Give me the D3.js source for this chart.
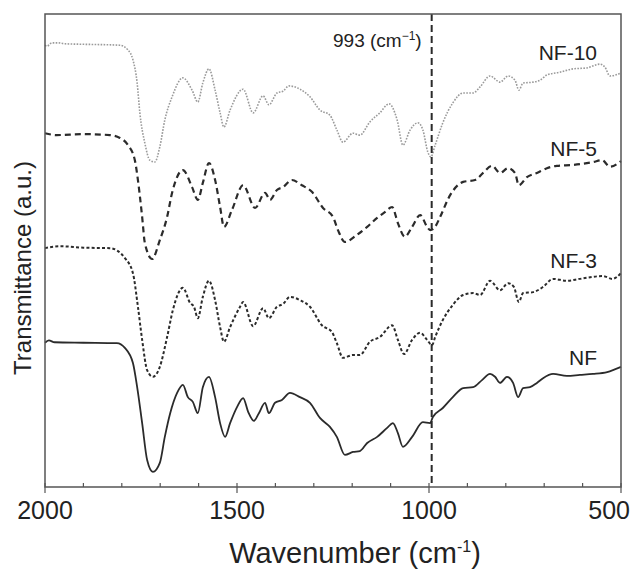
<!DOCTYPE html>
<html>
<head>
<meta charset="utf-8">
<script src="https://cdn.jsdelivr.net/npm/d3@7"></script>
<style>
  body { margin: 0; background: #fff; }
  text { font-family: "Liberation Sans", Arial, sans-serif; fill: #222; }
</style>
</head>
<body>
<script>
// x ticks (cm-1)
const xTicks = [2000, 1500, 1000, 500]
const peakMark = 993

// spectra: [wavenumber, transmittance (a.u.)]
const nf = [
  [2000, 30.5], [1990, 31.0], [1975, 30.6], [1900, 30.5], [1813, 30.4], [1792, 29.4], [1771, 26.2],
  [1760, 21.1], [1747, 13.5], [1734, 5.7], [1719, 3.2], [1701, 5.1], [1688, 10.6],
  [1674, 15.6], [1656, 19.9], [1641, 21.6], [1628, 19.0], [1615, 18.0], [1602, 15.6],
  [1589, 21.1], [1573, 23.3], [1557, 19.0], [1544, 13.5], [1531, 10.6], [1518, 13.5],
  [1500, 16.9], [1484, 18.8], [1471, 15.9], [1456, 14.0], [1443, 15.6], [1427, 17.8],
  [1417, 15.6], [1401, 17.8], [1383, 18.4], [1362, 19.9], [1336, 19.0], [1310, 17.8],
  [1284, 14.6], [1258, 12.7], [1240, 10.6], [1219, 6.8], [1198, 7.4], [1180, 7.6],
  [1161, 9.3], [1135, 10.6], [1109, 12.5], [1094, 13.5], [1081, 11.4], [1068, 8.5],
  [1044, 10.6], [1016, 13.7], [997, 13.5], [990, 14.8], [964, 16.7], [938, 19.0],
  [911, 20.9], [885, 21.1], [862, 22.6], [841, 23.9], [828, 23.3], [815, 22.0],
  [797, 23.3], [781, 22.0], [768, 19.0], [755, 20.9], [737, 21.1], [719, 22.0],
  [703, 23.0], [677, 23.9], [641, 23.5], [607, 23.7], [573, 23.9], [536, 24.3], [500, 25.4]
]

const nf3 = [
  [2000, 50.5], [1960, 50.9], [1900, 50.6], [1831, 50.5], [1792, 48.4], [1771, 45.2], [1758, 38.1],
  [1747, 31.1], [1734, 24.7], [1719, 23.3], [1701, 25.4], [1682, 31.7], [1667, 37.4],
  [1641, 42.1], [1622, 38.9], [1612, 38.1], [1602, 35.7], [1589, 40.2], [1573, 43.6],
  [1557, 39.5], [1544, 33.8], [1534, 30.7], [1518, 33.8], [1492, 38.1], [1484, 39.1],
  [1458, 34.0], [1432, 37.8], [1417, 35.7], [1396, 38.1], [1380, 38.7], [1362, 40.2],
  [1336, 39.5], [1310, 38.1], [1279, 34.2], [1253, 32.8], [1240, 30.4], [1224, 27.3],
  [1198, 27.9], [1180, 27.9], [1154, 30.7], [1128, 31.7], [1096, 34.2], [1081, 31.1],
  [1065, 28.1], [1044, 31.1], [1023, 32.6], [1005, 31.1], [992, 30.0], [984, 31.7],
  [964, 35.3], [938, 38.5], [911, 40.6], [885, 41.0], [867, 40.6], [841, 43.6],
  [815, 41.6], [794, 43.1], [779, 42.3], [766, 39.1], [755, 41.0], [729, 41.2],
  [703, 42.3], [677, 44.0], [641, 43.6], [607, 44.0], [547, 44.6], [523, 44.0], [500, 45.2]
]

const nf5 = [
  [2000, 74.8], [1970, 74.4], [1900, 74.6], [1831, 74.4], [1805, 73.8], [1784, 72.3], [1766, 69.1],
  [1758, 64.9], [1747, 57.1], [1740, 51.6], [1721, 48.2], [1701, 52.2], [1682, 57.1],
  [1669, 62.2], [1641, 67.0], [1617, 63.4], [1602, 60.7], [1589, 64.3], [1573, 68.5],
  [1557, 64.9], [1544, 59.2], [1534, 55.0], [1513, 58.6], [1484, 63.8], [1453, 59.0],
  [1427, 62.2], [1414, 60.7], [1396, 62.8], [1380, 63.4], [1357, 64.9], [1331, 63.8],
  [1305, 62.4], [1276, 59.0], [1250, 57.1], [1237, 54.3], [1219, 51.8], [1188, 53.3],
  [1161, 55.0], [1135, 56.9], [1115, 58.1], [1096, 59.2], [1081, 55.8], [1063, 52.9],
  [1044, 55.0], [1023, 57.5], [1005, 55.0], [997, 54.3], [984, 55.0], [971, 57.1],
  [945, 61.7], [911, 64.5], [880, 64.9], [859, 66.4], [836, 67.9], [815, 66.4],
  [794, 67.4], [776, 66.4], [766, 63.8], [745, 65.5], [719, 66.4], [693, 67.4],
  [667, 67.9], [625, 68.1], [573, 68.7], [549, 69.1], [529, 67.7], [500, 68.9]
]

const nf10 = [
  [2000, 93.4], [1995, 93.2], [1982, 93.9], [1966, 93.9], [1948, 93.7], [1900, 93.6], [1805, 93.4],
  [1784, 92.4], [1771, 90.3], [1760, 85.4], [1753, 79.1], [1740, 72.7], [1727, 69.1],
  [1714, 68.7], [1701, 71.9], [1688, 77.6], [1669, 82.5], [1641, 86.5], [1617, 83.9],
  [1602, 81.4], [1589, 85.4], [1573, 88.4], [1557, 83.9], [1544, 79.1], [1534, 76.1],
  [1518, 79.7], [1484, 84.1], [1458, 79.1], [1432, 82.7], [1417, 80.8], [1396, 83.3],
  [1380, 83.7], [1365, 84.8], [1336, 84.1], [1310, 82.5], [1284, 79.7], [1258, 78.6],
  [1240, 75.5], [1224, 72.9], [1198, 74.8], [1180, 74.4], [1154, 77.2], [1128, 79.1],
  [1104, 81.0], [1083, 77.6], [1068, 72.3], [1049, 75.5], [1029, 77.0], [1016, 75.5],
  [1003, 70.8], [995, 69.8], [984, 72.3], [964, 77.0], [938, 81.2], [911, 83.3],
  [885, 83.3], [867, 84.6], [841, 86.9], [815, 85.6], [794, 86.9], [776, 86.0],
  [766, 83.9], [755, 85.4], [729, 85.6], [711, 86.0], [693, 87.1], [659, 87.7],
  [625, 88.4], [589, 88.6], [555, 89.4], [542, 88.8], [529, 86.9], [500, 87.5]
]

const seriesNames = ["NF-10", "NF-5", "NF-3", "NF"]
const labelAt = [90.3, 70.0, 46.3, 25.8]   // label baseline, in transmittance units

const width = 632, height = 571
const margin = {left: 45, right: 11, top: 14, bottom: 84}

const svg = d3.select("body").append("svg")
  .attr("width", width)
  .attr("height", height)

const x = d3.scaleLinear().domain([2000, 500]).range([margin.left, width - margin.right])
const y = d3.scaleLinear().domain([0, 100]).range([height - margin.bottom, margin.top])

const line = d3.line()
  .x(d => x(d[0]))
  .y(d => y(d[1]))
  .curve(d3.curveMonotoneX)

// styles per series
const styles = [
  {data: nf10, stroke: "#9a9a9a", w: 1.6, dash: "1.6,1.4"},
  {data: nf5, stroke: "#2b2b2b", w: 2.2, dash: "6,4"},
  {data: nf3, stroke: "#2b2b2b", w: 2, dash: "3,2.2"},
  {data: nf, stroke: "#2b2b2b", w: 1.8, dash: null}
]

styles.forEach(s => {
  svg.append("path")
    .datum(s.data)
    .attr("d", line)
    .attr("fill", "none")
    .attr("stroke", s.stroke)
    .attr("stroke-width", s.w)
    .attr("stroke-dasharray", s.dash)
})

// 993 marker
svg.append("line")
  .attr("x1", x(peakMark)).attr("x2", x(peakMark))
  .attr("y1", y(100)).attr("y2", y(0))
  .attr("stroke", "#2b2b2b")
  .attr("stroke-width", 2)
  .attr("stroke-dasharray", "7,4")

const ann = svg.append("text")
  .attr("x", x(peakMark) - 10)
  .attr("y", 47)
  .attr("text-anchor", "end")
  .style("font-size", "19px")
ann.append("tspan").text(peakMark + " (cm")
ann.append("tspan").attr("dy", -7).style("font-size", "12px").text("\u22121")
ann.append("tspan").attr("dy", 7).text(")")

// series labels
svg.selectAll(".lbl")
  .data(seriesNames)
  .enter()
  .append("text")
  .attr("class", "lbl")
  .attr("x", 597)
  .attr("y", (d, i) => y(labelAt[i]))
  .attr("text-anchor", "end")
  .style("font-size", "21px")
  .text(d => d)

// frame
svg.append("rect")
  .attr("x", margin.left).attr("y", margin.top)
  .attr("width", width - margin.left - margin.right)
  .attr("height", height - margin.top - margin.bottom)
  .attr("fill", "none")
  .attr("stroke", "#555")
  .attr("stroke-width", 1.5)

// bottom ticks
const bottom = height - margin.bottom
svg.selectAll(".minor")
  .data(d3.range(500, 2001, 100))
  .enter()
  .append("line")
  .attr("x1", d => x(d)).attr("x2", d => x(d))
  .attr("y1", d => d % 500 === 0 ? bottom + 6 : bottom)
  .attr("y2", bottom - 4)
  .attr("stroke", "#555")
  .attr("stroke-width", 1.2)

svg.selectAll(".tick")
  .data(xTicks)
  .enter()
  .append("text")
  .attr("x", (d, i) => i === xTicks.length - 1 ? width - 2 : x(d))
  .attr("y", 519)
  .attr("text-anchor", (d, i) => i === xTicks.length - 1 ? "end" : "middle")
  .style("font-size", "25px")
  .text(d => d)

// axis titles
const xt = svg.append("text")
  .attr("x", 355)
  .attr("y", 563)
  .attr("text-anchor", "middle")
  .style("font-size", "29px")
xt.append("tspan").text("Wavenumber (cm")
xt.append("tspan").attr("dy", -11).style("font-size", "16px").text("-1")
xt.append("tspan").attr("dy", 11).text(")")

svg.append("text")
  .attr("transform", "translate(31,268) rotate(-90)")
  .attr("text-anchor", "middle")
  .style("font-size", "24px")
  .text("Transmittance (a.u.)")
</script>
</body>
</html>
